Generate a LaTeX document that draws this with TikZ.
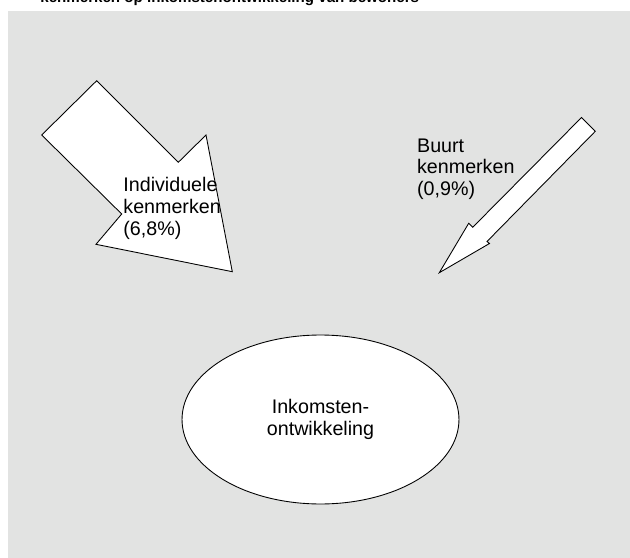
\documentclass[tikz,border=0pt]{standalone}
\usepackage{fontspec}
\setmainfont{Liberation Sans}
\usetikzlibrary{shapes,positioning}
\definecolor{achtergrond}{RGB}{226,227,226}

\begin{document}
\begin{tikzpicture}[x=0.02cm, y=-0.02cm, line width=0.5pt,
	tekst/.style={font=\fontsize{11.2}{12.35}\selectfont, align=left, inner sep=0pt, anchor=base west},
	pijl/.style={draw=black, fill=white, line join=miter}]
	\useasboundingbox (0,0) rectangle (630,558);
	% Background and title
	\fill[achtergrond] (8,11) rectangle (630,558);
	\node[anchor=base west, inner sep=0pt, font=\fontsize{8.6}{10}\selectfont\bfseries] (titel) at (40,2) {kenmerken op inkomstenontwikkeling van bewoners};

	% Draw arrows
	\draw[pijl] (96.7,80.7) -- (41.7,135) -- (121.7,214) -- (96,244.3) -- (232.3,271.7) -- (206,135) -- (178.3,162.3) -- cycle;
	\draw[pijl] (581.5,117.5) -- (595.3,131.3) -- (487,241.5) -- (489.5,243.5) -- (439.3,272.7) -- (468.7,223.3) -- (472.7,227.3) -- cycle;

	% Define nodes
	\node[tekst] (individueel) at (123,235) {Individuele\\kenmerken\\(6,8\%)};
	\node[tekst] (buurt) at (416.7,195.4) {Buurt\\kenmerken\\(0,9\%)};
	\node[draw, fill=white, ellipse, inner sep=0pt, minimum width=5.54cm, minimum height=3.38cm,
		align=center, font=\fontsize{11.2}{12.35}\selectfont] (inkomen) at (320.5,419.5) {Inkomsten-\\ontwikkeling};
\end{tikzpicture}
\end{document}
